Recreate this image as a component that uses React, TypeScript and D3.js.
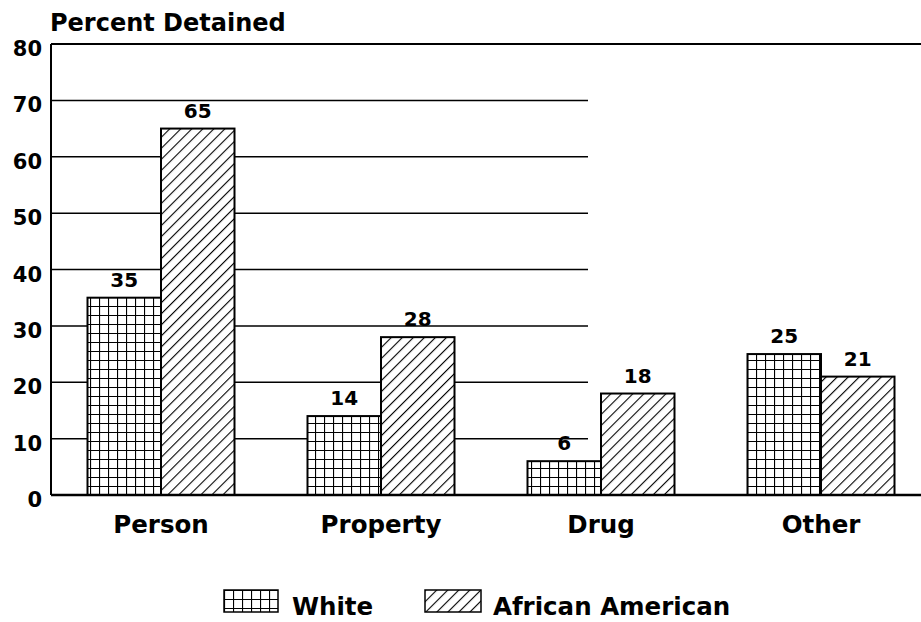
import React, { useRef, useEffect } from 'react'
import * as d3 from 'd3'

const categories = ['Person', 'Property', 'Drug', 'Other']
const series = ['White', 'African American']
const whiteValues = [35, 14, 6, 25]
const africanAmericanValues = [65, 28, 18, 21]
const yTicks = [0, 10, 20, 30, 40, 50, 60, 70, 80]

const W = 921
const H = 622
const FONT = '"DejaVu Sans", Verdana, sans-serif'

const App = () => {
  const node = useRef<SVGSVGElement | null>(null)

  useEffect(() => {
    const svg = d3.select(node.current)
    svg.selectAll('*').remove()

    const margin = { left: 51, top: 44, bottom: 495 }
    const y = d3.scaleLinear().domain([0, 80]).range([margin.bottom, margin.top])
    const x = d3.scaleBand().domain(categories).range([margin.left, margin.left + 880]).padding(0)
    const xs = d3.scaleBand().domain(series).range([-73.5, 73.5]).padding(0)

    const defs = svg.append('defs')
    const grid = defs
      .append('pattern')
      .attr('id', 'grid')
      .attr('patternUnits', 'userSpaceOnUse')
      .attr('width', 9)
      .attr('height', 9)
    grid.append('rect').attr('width', 9).attr('height', 9).attr('fill', '#fff')
    grid.append('path').attr('d', 'M0.5,0V9M0,0.5H9').attr('stroke', '#000').attr('stroke-width', 1.2)

    const diag = defs
      .append('pattern')
      .attr('id', 'diag')
      .attr('patternUnits', 'userSpaceOnUse')
      .attr('width', 7.8)
      .attr('height', 7.8)
      .attr('patternTransform', 'rotate(45)')
    diag.append('rect').attr('width', 7.8).attr('height', 7.8).attr('fill', '#fff')
    diag.append('line').attr('x1', 0.5).attr('x2', 0.5).attr('y1', 0).attr('y2', 7.8).attr('stroke', '#000').attr('stroke-width', 1.2)

    const fills = { White: 'url(#grid)', 'African American': 'url(#diag)' }

    // gridlines (stop short, as in the original)
    svg
      .append('g')
      .selectAll('line')
      .data(yTicks.filter((t) => t > 0 && t < 80))
      .join('line')
      .attr('x1', margin.left)
      .attr('x2', 588)
      .attr('y1', (d) => y(d))
      .attr('y2', (d) => y(d))
      .attr('stroke', '#000')
      .attr('stroke-width', 1.5)

    svg.append('line').attr('x1', margin.left).attr('x2', W).attr('y1', y(80)).attr('y2', y(80)).attr('stroke', '#000').attr('stroke-width', 2)

    // tick labels
    svg
      .append('g')
      .selectAll('text')
      .data(yTicks)
      .join('text')
      .attr('x', 42)
      .attr('y', (d) => y(d) + 12)
      .attr('text-anchor', 'end')
      .attr('font-family', FONT)
      .attr('font-weight', 'bold')
      .attr('font-size', 21)
      .text((d) => d)

    svg
      .append('text')
      .attr('x', 50)
      .attr('y', 31)
      .attr('font-family', FONT)
      .attr('font-weight', 'bold')
      .attr('font-size', 24)
      .text('Percent Detained')

    const rows = categories.flatMap((c, i) => [
      { cat: c, s: 'White', v: whiteValues[i] },
      { cat: c, s: 'African American', v: africanAmericanValues[i] }
    ])

    const cx = (d) => x(d.cat) + x.bandwidth() / 2 + xs(d.s)

    svg
      .append('g')
      .selectAll('rect')
      .data(rows)
      .join('rect')
      .attr('x', cx)
      .attr('y', (d) => y(d.v))
      .attr('width', xs.bandwidth())
      .attr('height', (d) => y(0) - y(d.v))
      .attr('fill', (d) => fills[d.s])
      .attr('stroke', '#000')
      .attr('stroke-width', 2)

    svg
      .append('g')
      .selectAll('text')
      .data(rows)
      .join('text')
      .attr('x', (d) => cx(d) + xs.bandwidth() / 2)
      .attr('y', (d) => y(d.v) - 11)
      .attr('text-anchor', 'middle')
      .attr('font-family', FONT)
      .attr('font-weight', 'bold')
      .attr('font-size', 20)
      .text((d) => d.v)

    // y axis and baseline
    svg.append('line').attr('x1', margin.left).attr('x2', margin.left).attr('y1', y(80)).attr('y2', y(0)).attr('stroke', '#000').attr('stroke-width', 2)
    svg.append('line').attr('x1', margin.left).attr('x2', W).attr('y1', y(0)).attr('y2', y(0)).attr('stroke', '#000').attr('stroke-width', 2.5)

    svg
      .append('g')
      .selectAll('text')
      .data(categories)
      .join('text')
      .attr('x', (d) => x(d) + x.bandwidth() / 2)
      .attr('y', 533)
      .attr('text-anchor', 'middle')
      .attr('font-family', FONT)
      .attr('font-weight', 'bold')
      .attr('font-size', 24.5)
      .text((d) => d)

    // legend
    const legendPos = [224, 425]
    const legend = svg
      .append('g')
      .selectAll('g')
      .data(series)
      .join('g')
      .attr('transform', (d, i) => `translate(${legendPos[i]},590)`)
    legend
      .append('rect')
      .attr('width', (d, i) => (i === 0 ? 54 : 56))
      .attr('height', 22)
      .attr('fill', (d) => fills[d])
      .attr('stroke', '#000')
      .attr('stroke-width', 1.5)
    legend
      .append('text')
      .attr('x', 68)
      .attr('y', 25)
      .attr('font-family', FONT)
      .attr('font-weight', 'bold')
      .attr('font-size', 24.5)
      .text((d) => d)
  }, [])

  return <svg ref={node} width={W} height={H} style={{ position: 'absolute', left: 0, top: 0, background: '#fff' }}></svg>
}

export default App
